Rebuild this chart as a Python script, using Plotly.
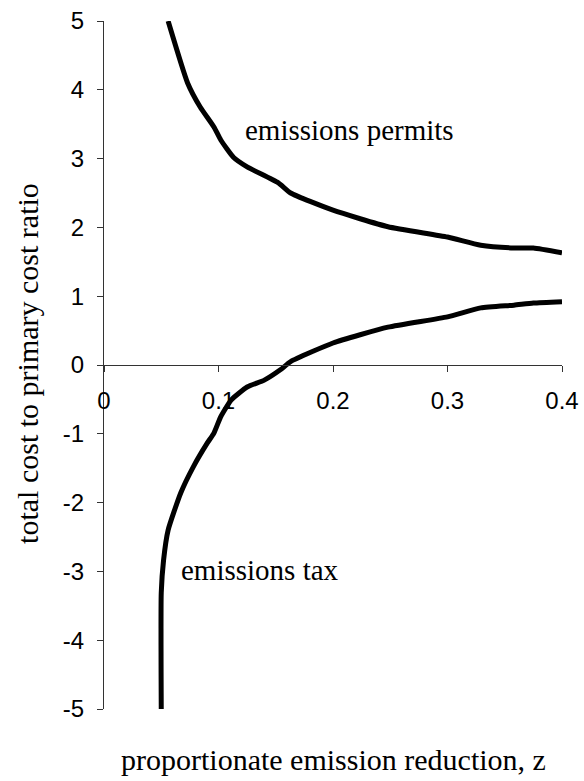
import plotly.graph_objects as go

# Emissions permits curve (z, ratio)
permits_z = [0.056, 0.073, 0.084, 0.096, 0.102, 0.113, 0.125, 0.152, 0.163,
             0.200, 0.248, 0.300, 0.329, 0.358, 0.375, 0.400]
permits_r = [5.00, 4.10, 3.75, 3.46, 3.27, 3.02, 2.88, 2.65, 2.50,
             2.25, 2.01, 1.86, 1.74, 1.70, 1.70, 1.63]

# Emissions tax curve (z, ratio)
tax_z = [0.050, 0.050, 0.052, 0.056, 0.067, 0.078, 0.090, 0.096, 0.102, 0.111,
         0.125, 0.140, 0.154, 0.163, 0.200, 0.248, 0.300, 0.329, 0.358, 0.375, 0.400]
tax_r = [-5.00, -3.31, -2.84, -2.40, -1.86, -1.48, -1.14, -0.99, -0.75, -0.51,
         -0.32, -0.22, -0.07, 0.05, 0.32, 0.55, 0.70, 0.83, 0.87, 0.90, 0.92]

x_tickvals = [0, 0.1, 0.2, 0.3, 0.4]
x_ticktext = ["0", "0.1", "0.2", "0.3", "0.4"]
y_tickvals = [-5, -4, -3, -2, -1, 0, 1, 2, 3, 4, 5]
y_ticktext = ["-5", "-4", "-3", "-2", "-1", "0", "1", "2", "3", "4", "5"]

fig = go.Figure()
fig.add_trace(go.Scatter(x=permits_z, y=permits_r, mode="lines",
                         line=dict(color="black", width=5, shape="spline", smoothing=0.5),
                         name="emissions permits", showlegend=False))
fig.add_trace(go.Scatter(x=tax_z, y=tax_r, mode="lines",
                         line=dict(color="black", width=5, shape="spline", smoothing=0.5),
                         name="emissions tax", showlegend=False))

serif = "Liberation Serif, Times New Roman, serif"
sans = "Liberation Sans, Arial, sans-serif"

fig.update_layout(
    width=584, height=781,
    margin=dict(l=104, r=22, t=21, b=72, autoexpand=False),
    paper_bgcolor="white", plot_bgcolor="white",
    xaxis=dict(range=[0, 0.4], tickvals=x_tickvals, ticktext=x_ticktext,
               anchor="free", position=0.5, automargin=False,
               showline=True, linecolor="#333333", linewidth=1,
               ticks="outside", ticklen=6, tickcolor="#333333",
               showgrid=False, zeroline=False, ticklabeloverflow="allow",
               tickfont=dict(family=sans, size=24, color="black"),
               ticklabelstandoff=8),
    yaxis=dict(range=[-5, 5], tickvals=y_tickvals, ticktext=y_ticktext,
               automargin=False,
               showline=True, linecolor="#333333", linewidth=1,
               ticks="outside", ticklen=6, tickcolor="#333333",
               showgrid=False, zeroline=False, ticklabeloverflow="allow",
               tickfont=dict(family=sans, size=24, color="black"),
               ticklabelstandoff=8),
    annotations=[
        dict(text="emissions permits", x=0.2146, y=3.42, xref="x", yref="y",
             showarrow=False, font=dict(family=serif, size=29, color="black")),
        dict(text="emissions tax", x=0.136, y=-2.98, xref="x", yref="y",
             showarrow=False, font=dict(family=serif, size=29, color="black")),
        dict(text="proportionate emission reduction, z", x=0.5, y=-0.074,
             xref="paper", yref="paper", xanchor="center", yanchor="middle",
             showarrow=False, font=dict(family=serif, size=30, color="black")),
        dict(text="total cost to primary cost ratio", x=-0.166, y=0.503,
             xref="paper", yref="paper", xanchor="center", yanchor="middle",
             textangle=-90, showarrow=False,
             font=dict(family=serif, size=30, color="black")),
    ],
)

fig.write_html("out.html", config={"displayModeBar": False},
               post_script="document.body.style.margin='0';")
